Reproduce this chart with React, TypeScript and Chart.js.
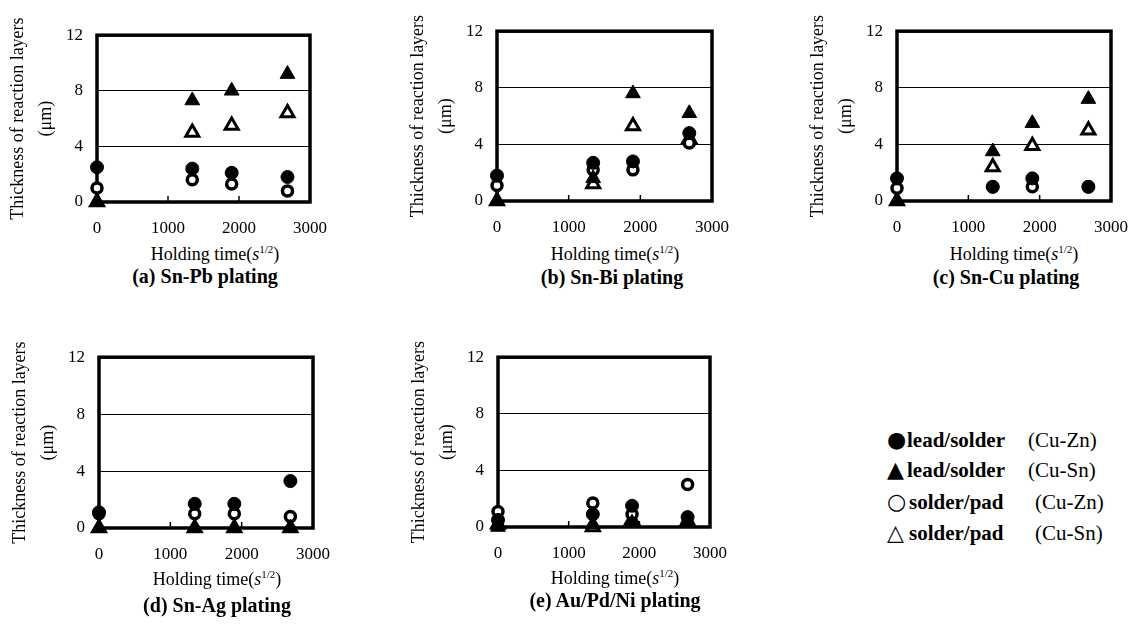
import React, { useEffect, useRef } from "react";
import { Chart, registerables } from "chart.js";

Chart.register(...registerables);

// ---------- data ----------
const holdingTimes = [0, 1342, 1897, 2683];
const xTickValues = [0, 1000, 2000, 3000];
const yTickValues = [0, 4, 8, 12];

const yAxisTitle = ["Thickness of reaction layers", "(μm)"];
const platingTitles = [
  "(a) Sn-Pb plating",
  "(b) Sn-Bi plating",
  "(c) Sn-Cu plating",
  "(d) Sn-Ag plating",
  "(e) Au/Pd/Ni plating",
];
const seriesLabels = [
  "lead/solder (Cu-Zn)",
  "lead/solder (Cu-Sn)",
  "solder/pad (Cu-Zn)",
  "solder/pad (Cu-Sn)",
];

// (a) Sn-Pb
const snPbLeadCuZn = [2.5, 2.4, 2.1, 1.8];
const snPbLeadCuSn = [0, 7.3, 8.0, 9.2];
const snPbPadCuZn = [1.0, 1.6, 1.3, 0.8];
const snPbPadCuSn = [0, 5.0, 5.5, 6.4];
// (b) Sn-Bi
const snBiLeadCuZn = [1.8, 2.7, 2.8, 4.8];
const snBiLeadCuSn = [0, 1.6, 7.6, 6.2];
const snBiPadCuZn = [1.1, 2.2, 2.2, 4.1];
const snBiPadCuSn = [0, 1.2, 5.3, 4.4];
// (c) Sn-Cu
const snCuLeadCuZn = [1.6, 1.0, 1.6, 1.0];
const snCuLeadCuSn = [0, 3.5, 5.5, 7.2];
const snCuPadCuZn = [0.9, 1.0, 1.0, 1.0];
const snCuPadCuSn = [0, 2.4, 3.9, 5.0];
// (d) Sn-Ag
const snAgLeadCuZn = [1.1, 1.7, 1.7, 3.3];
const snAgLeadCuSn = [0, 0, 0, 0];
const snAgPadCuZn = [1.0, 1.0, 1.0, 0.8];
const snAgPadCuSn = [0, 0, 0, 0];
// (e) Au/Pd/Ni
const auPdNiLeadCuZn = [0.5, 0.9, 1.5, 0.7];
const auPdNiLeadCuSn = [0, 0.2, 0.3, 0.5];
const auPdNiPadCuZn = [1.1, 1.7, 0.9, 3.0];
const auPdNiPadCuSn = [0.2, 0, 0.5, 0.4];

const panelSeries = [
  [snPbLeadCuZn, snPbLeadCuSn, snPbPadCuZn, snPbPadCuSn],
  [snBiLeadCuZn, snBiLeadCuSn, snBiPadCuZn, snBiPadCuSn],
  [snCuLeadCuZn, snCuLeadCuSn, snCuPadCuZn, snCuPadCuSn],
  [snAgLeadCuZn, snAgLeadCuSn, snAgPadCuZn, snAgPadCuSn],
  [auPdNiLeadCuZn, auPdNiLeadCuSn, auPdNiPadCuZn, auPdNiPadCuSn],
];

const legendGlyphs = ["●", "▲", "○", "△"];
const legendParts = ["lead/solder", "lead/solder", "solder/pad", "solder/pad"];
const legendPhases = ["(Cu-Zn)", "(Cu-Sn)", "(Cu-Zn)", "(Cu-Sn)"];

// ---------- layout / style ----------
const FONT = "'Liberation Serif', 'Times New Roman', Times, serif";
const Y_AXIS_W = 93;
const X_AXIS_H = 40;
const PAD_TOP = 12;
const PAD_RIGHT = 20;

const panelBoxes = [
  { left: 97, top: 23, right: 323, bottom: 202, xlx: 215, xly: 253, stx: 205, sty: 276 },
  { left: 497, top: 19, right: 725, bottom: 201, xlx: 615, xly: 253, stx: 612, sty: 277 },
  { left: 897, top: 19, right: 1124, bottom: 201, xlx: 1014, xly: 253, stx: 1006, sty: 277 },
  { left: 99, top: 345, right: 326, bottom: 528, xlx: 217, xly: 578, stx: 217, sty: 605 },
  { left: 498, top: 345, right: 723, bottom: 527, xlx: 615, xly: 577, stx: 615, sty: 600 },
];

const markerStyles = [
  { pointStyle: "circle", radius: 6.5, borderWidth: 1, fill: "#000" },
  { pointStyle: "triangle", radius: 8.5, borderWidth: 1, fill: "#000" },
  { pointStyle: "circle", radius: 5, borderWidth: 3.5, fill: "#fff" },
  { pointStyle: "triangle", radius: 7.5, borderWidth: 3, fill: "#fff" },
];

const legendRows = [
  { y: 440, paren: 1028 },
  { y: 470, paren: 1028 },
  { y: 502, paren: 1035 },
  { y: 533, paren: 1035 },
];

const framePlugin = {
  id: "frame",
  beforeDatasetsDraw(chart: any) {
    const { ctx, chartArea, scales } = chart;
    const { left, top, right, bottom } = chartArea;
    const x = scales.x;
    ctx.save();
    ctx.strokeStyle = "#000";
    ctx.lineWidth = 1.5;
    x.ticks.forEach((t: any) => {
      if (t.value > x.min && t.value < x.max) {
        const px = x.getPixelForValue(t.value);
        ctx.beginPath();
        ctx.moveTo(px, bottom);
        ctx.lineTo(px, bottom - 6);
        ctx.stroke();
      }
    });
    ctx.lineWidth = 3.5;
    ctx.strokeRect(left, top, right - left, bottom - top);
    ctx.restore();
  },
};

function Panel({ index }: { index: number }) {
  const ref = useRef<HTMLCanvasElement>(null);
  const box = panelBoxes[index];
  const width = Y_AXIS_W + (box.right - box.left) + PAD_RIGHT;
  const height = PAD_TOP + (box.bottom - box.top) + X_AXIS_H;

  useEffect(() => {
    const canvas = ref.current!;
    const series = panelSeries[index];
    const chart = new Chart(canvas, {
      type: "scatter",
      data: {
        datasets: series.map((values, si) => ({
          label: seriesLabels[si],
          data: holdingTimes.map((t, i) => ({ x: t, y: values[i] })),
          pointStyle: markerStyles[si].pointStyle as any,
          pointRadius: markerStyles[si].radius,
          pointHoverRadius: markerStyles[si].radius,
          pointBorderWidth: markerStyles[si].borderWidth,
          pointBackgroundColor: markerStyles[si].fill,
          pointBorderColor: "#000",
          showLine: false,
          clip: false as any,
        })),
      },
      options: {
        responsive: false,
        animation: false,
        events: [],
        layout: { padding: { top: PAD_TOP, right: PAD_RIGHT, left: 0, bottom: 0 } },
        plugins: { legend: { display: false }, tooltip: { enabled: false } },
        scales: {
          x: {
            type: "linear",
            min: xTickValues[0],
            max: xTickValues[xTickValues.length - 1],
            afterBuildTicks: (s: any) => {
              s.ticks = xTickValues.map((v) => ({ value: v }));
            },
            afterFit: (s: any) => {
              s.height = X_AXIS_H;
            },
            grid: { display: false, drawTicks: false },
            border: { display: false },
            ticks: {
              padding: 16,
              color: "#000",
              maxRotation: 0,
              autoSkip: false,
              font: { family: FONT, size: 17 },
              callback: (v: any) => String(v),
            },
          },
          y: {
            type: "linear",
            min: yTickValues[0],
            max: yTickValues[yTickValues.length - 1],
            afterBuildTicks: (s: any) => {
              s.ticks = yTickValues.map((v) => ({ value: v }));
            },
            afterFit: (s: any) => {
              s.width = Y_AXIS_W;
            },
            grid: {
              drawTicks: false,
              lineWidth: 1,
              color: (c: any) =>
                c.tick && (c.tick.value === yTickValues[0] || c.tick.value === yTickValues[yTickValues.length - 1])
                  ? "rgba(0,0,0,0)"
                  : "#000",
            },
            border: { display: false },
            ticks: {
              padding: 14,
              color: "#000",
              autoSkip: false,
              font: { family: FONT, size: 17 },
              callback: (v: any) => String(v),
            },
            title: {
              display: true,
              text: yAxisTitle,
              color: "#000",
              padding: 0,
              font: { family: FONT, size: 18, lineHeight: "28px" as any },
            },
          },
        },
      },
      plugins: [framePlugin],
    });
    return () => chart.destroy();
  }, [index]);

  return (
    <>
      <canvas
        ref={ref}
        width={width}
        height={height}
        style={{
          position: "absolute",
          left: box.left - Y_AXIS_W,
          top: box.top - PAD_TOP,
          width,
          height,
          display: "block",
        }}
      />
      <div
        style={{
          position: "absolute",
          left: box.xlx,
          top: box.xly,
          transform: "translate(-50%, -50%)",
          fontFamily: FONT,
          fontSize: 18,
          lineHeight: 1,
          whiteSpace: "nowrap",
          color: "#000",
        }}
      >
        Holding time(<i>s</i>
        <sup style={{ fontSize: 11 }}>1/2</sup>)
      </div>
      <div
        style={{
          position: "absolute",
          left: box.stx,
          top: box.sty,
          transform: "translate(-50%, -50%)",
          fontFamily: FONT,
          fontSize: 20,
          fontWeight: "bold",
          lineHeight: 1,
          whiteSpace: "nowrap",
          color: "#000",
        }}
      >
        {platingTitles[index]}
      </div>
    </>
  );
}

export default function App() {
  return (
    <div
      style={{
        position: "absolute",
        left: 0,
        top: 0,
        width: 1146,
        height: 627,
        overflow: "hidden",
        background: "#fff",
      }}
    >
      {panelBoxes.map((_, i) => (
        <Panel key={i} index={i} />
      ))}
      {legendRows.map((row, i) => (
        <React.Fragment key={i}>
          <span
            style={{
              position: "absolute",
              left: 887,
              top: row.y,
              transform: "translateY(-50%)",
              fontFamily: "'DejaVu Sans', sans-serif",
              fontSize: 22,
              lineHeight: 1,
              color: "#000",
            }}
          >
            {legendGlyphs[i]}
          </span>
          <span
            style={{
              position: "absolute",
              left: i < 2 ? 907 : 909,
              top: row.y,
              transform: "translateY(-50%)",
              fontFamily: FONT,
              fontSize: 21,
              fontWeight: "bold",
              lineHeight: 1,
              whiteSpace: "nowrap",
              color: "#000",
            }}
          >
            {legendParts[i]}
          </span>
          <span
            style={{
              position: "absolute",
              left: row.paren,
              top: row.y,
              transform: "translateY(-50%)",
              fontFamily: FONT,
              fontSize: 21,
              lineHeight: 1,
              whiteSpace: "nowrap",
              color: "#000",
            }}
          >
            {legendPhases[i]}
          </span>
        </React.Fragment>
      ))}
    </div>
  );
}
